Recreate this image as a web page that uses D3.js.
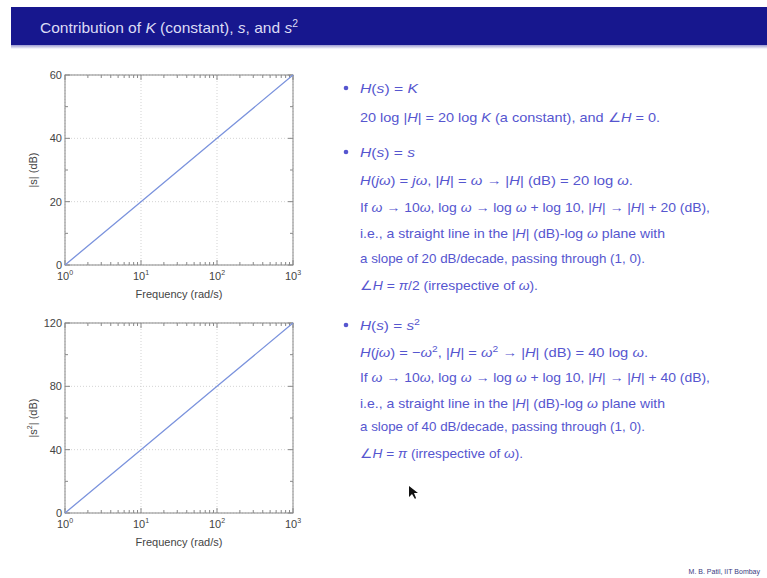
<!DOCTYPE html>
<html><head><meta charset="utf-8">
<script src="https://cdn.jsdelivr.net/npm/d3@7"></script>
<style>body{margin:0;background:#fff}svg{display:block}</style>
</head><body><svg id="c" width="767" height="578"></svg>
<script>
const freq = [1, 10, 100, 1000];
const magS = [0, 20, 40, 60];
const magS2 = [0, 40, 80, 120];
const xTickExp = [0, 1, 2, 3];
const yTicksTop = [0, 20, 40, 60];
const yTicksBot = [0, 40, 80, 120];

const svg = d3.select("#c");
const blue = "#5656cf";

// title bar
const grad = svg.append("defs").append("linearGradient").attr("id","sh").attr("x1",0).attr("x2",0).attr("y1",0).attr("y2",1);
grad.append("stop").attr("offset",0).attr("stop-color","#9a9ad0");
grad.append("stop").attr("offset",1).attr("stop-color","#fff");
svg.append("rect").attr("x",11).attr("y",7).attr("width",756).attr("height",38).attr("fill","#17178e");
svg.append("rect").attr("x",11).attr("y",45).attr("width",756).attr("height",4).attr("fill","url(#sh)");
const tt = svg.append("text").attr("x",40).attr("y",33).attr("fill","#dcdcf5")
  .style("font-family","Liberation Sans, Arial, sans-serif").style("font-size","15px")
  .attr("textLength",258).attr("lengthAdjust","spacingAndGlyphs");
tt.append("tspan").text("Contribution of ");
tt.append("tspan").attr("font-style","italic").text("K");
tt.append("tspan").text(" (constant), ");
tt.append("tspan").attr("font-style","italic").text("s");
tt.append("tspan").text(", and ");
tt.append("tspan").attr("font-style","italic").text("s");
tt.append("tspan").attr("dy",-6).style("font-size","10px").text("2");

function plot(top, bottom, vals, yTicks, ylabel) {
  const x = d3.scaleLog().domain([1, 1000]).range([65, 293]);
  const y = d3.scaleLinear().domain([0, yTicks[yTicks.length-1]]).range([bottom, top]);
  const g = svg.append("g");
  const step = yTicks[1]-yTicks[0];
  g.selectAll(".gx").data(freq).enter().append("line")
    .attr("x1",d=>x(d)).attr("x2",d=>x(d)).attr("y1",top).attr("y2",bottom)
    .attr("stroke","#c8c8c8").attr("stroke-dasharray","1,2").attr("stroke-width",0.8);
  g.selectAll(".gy").data(yTicks).enter().append("line")
    .attr("x1",65).attr("x2",293).attr("y1",d=>y(d)).attr("y2",d=>y(d))
    .attr("stroke","#c8c8c8").attr("stroke-dasharray","1,2").attr("stroke-width",0.8);
  const minorX = [];
  for (let e=0;e<3;e++) for (let k=2;k<10;k++) minorX.push(k*Math.pow(10,e));
  const allX = freq.concat(minorX);
  allX.forEach(d => {
    const len = freq.includes(d) ? 5 : 3;
    g.append("line").attr("x1",x(d)).attr("x2",x(d)).attr("y1",bottom).attr("y2",bottom-len).attr("stroke","#888");
    g.append("line").attr("x1",x(d)).attr("x2",x(d)).attr("y1",top).attr("y2",top+len).attr("stroke","#888");
  });
  const ys = d3.range(0, yTicks[yTicks.length-1]+0.01, step/2);
  ys.forEach(d => {
    const len = yTicks.includes(d) ? 5 : 3;
    g.append("line").attr("x1",65).attr("x2",65+len).attr("y1",y(d)).attr("y2",y(d)).attr("stroke","#888");
    g.append("line").attr("x1",293).attr("x2",293-len).attr("y1",y(d)).attr("y2",y(d)).attr("stroke","#888");
  });
  g.append("rect").attr("x",65).attr("y",top).attr("width",228).attr("height",bottom-top)
    .attr("fill","none").attr("stroke","#888").attr("stroke-width",1);
  const line = d3.line().x((d,i)=>x(freq[i])).y(d=>y(d));
  g.append("path").datum(vals).attr("d",line).attr("fill","none").attr("stroke","#7b93dd").attr("stroke-width",1.3);
  const fs = "Liberation Sans, Arial, sans-serif";
  g.selectAll(".yl").data(yTicks).enter().append("text")
    .attr("x",62).attr("y",d=>y(d)+4).attr("text-anchor","end")
    .style("font-family",fs).style("font-size","11px").attr("fill","#444").text(d=>d);
  xTickExp.forEach((e,i) => {
    const t = g.append("text").attr("x",x(freq[i])).attr("y",bottom+15).attr("text-anchor","middle")
      .style("font-family",fs).style("font-size","11px").attr("fill","#444");
    t.append("tspan").text("10");
    t.append("tspan").attr("dy",-5).style("font-size","7px").text(e);
  });
  g.append("text").attr("x",179).attr("y",bottom+33).attr("text-anchor","middle")
    .style("font-family",fs).style("font-size","11px").attr("fill","#444").text("Frequency (rad/s)");
  const yl = g.append("text").attr("transform",`translate(37,${(top+bottom)/2}) rotate(-90)`).attr("text-anchor","middle")
    .style("font-family",fs).style("font-size","11px").attr("fill","#444");
  yl.html(ylabel);
}
plot(75, 265, magS, yTicksTop, "|s| (dB)");
plot(323, 513, magS2, yTicksBot, '|s<tspan dy="-5" font-size="7px">2</tspan><tspan dy="5">| (dB)</tspan>');

const lines = [
  {y:88, b:true, w:58, h:'<tspan font-style="italic">H</tspan>(<tspan font-style="italic">s</tspan>) = <tspan font-style="italic">K</tspan>'},
  {y:117, w:300, h:'20 log |<tspan font-style="italic">H</tspan>| = 20 log <tspan font-style="italic">K</tspan> (a constant), and ∠<tspan font-style="italic">H</tspan> = 0.'},
  {y:152, b:true, w:55, h:'<tspan font-style="italic">H</tspan>(<tspan font-style="italic">s</tspan>) = <tspan font-style="italic">s</tspan>'},
  {y:180, w:273, h:'<tspan font-style="italic">H</tspan>(<tspan font-style="italic">jω</tspan>) = <tspan font-style="italic">jω</tspan>, |<tspan font-style="italic">H</tspan>| = <tspan font-style="italic">ω</tspan> → |<tspan font-style="italic">H</tspan>| (dB) = 20 log <tspan font-style="italic">ω</tspan>.'},
  {y:207, w:350, h:'If <tspan font-style="italic">ω</tspan> → 10<tspan font-style="italic">ω</tspan>, log <tspan font-style="italic">ω</tspan> → log <tspan font-style="italic">ω</tspan> + log 10, |<tspan font-style="italic">H</tspan>| → |<tspan font-style="italic">H</tspan>| + 20 (dB),'},
  {y:233, w:305, h:'i.e., a straight line in the |<tspan font-style="italic">H</tspan>| (dB)-log <tspan font-style="italic">ω</tspan> plane with'},
  {y:258, w:285, h:'a slope of 20 dB/decade, passing through (1, 0).'},
  {y:285, w:178, h:'∠<tspan font-style="italic">H</tspan> = <tspan font-style="italic">π</tspan>/2 (irrespective of <tspan font-style="italic">ω</tspan>).'},
  {y:325, b:true, w:60, h:'<tspan font-style="italic">H</tspan>(<tspan font-style="italic">s</tspan>) = <tspan font-style="italic">s</tspan><tspan dy="-5" font-size="9px">2</tspan>'},
  {y:352, w:288, h:'<tspan font-style="italic">H</tspan>(<tspan font-style="italic">jω</tspan>) = −<tspan font-style="italic">ω</tspan><tspan dy="-5" font-size="9px">2</tspan><tspan dy="5">, |</tspan><tspan font-style="italic">H</tspan>| = <tspan font-style="italic">ω</tspan><tspan dy="-5" font-size="9px">2</tspan><tspan dy="5"> → |</tspan><tspan font-style="italic">H</tspan>| (dB) = 40 log <tspan font-style="italic">ω</tspan>.'},
  {y:377, w:350, h:'If <tspan font-style="italic">ω</tspan> → 10<tspan font-style="italic">ω</tspan>, log <tspan font-style="italic">ω</tspan> → log <tspan font-style="italic">ω</tspan> + log 10, |<tspan font-style="italic">H</tspan>| → |<tspan font-style="italic">H</tspan>| + 40 (dB),'},
  {y:403, w:305, h:'i.e., a straight line in the |<tspan font-style="italic">H</tspan>| (dB)-log <tspan font-style="italic">ω</tspan> plane with'},
  {y:426, w:285, h:'a slope of 40 dB/decade, passing through (1, 0).'},
  {y:453, w:163, h:'∠<tspan font-style="italic">H</tspan> = <tspan font-style="italic">π</tspan> (irrespective of <tspan font-style="italic">ω</tspan>).'}
];
lines.forEach(l => {
  if (l.b) svg.append("circle").attr("cx",346).attr("cy",l.y).attr("r",2.3).attr("fill",blue);
  svg.append("text").attr("x",360).attr("y",l.y+4.5)
    .style("font-family","Liberation Sans, Arial, sans-serif").style("font-size","13px")
    .attr("fill",blue).attr("textLength",l.w).attr("lengthAdjust","spacingAndGlyphs").html(l.h);
});

svg.append("path").attr("d","M409,486 L409,497 L412,494 L415,499 L416,498 L414,493 L418,493 Z").attr("fill","#111");

svg.append("text").attr("x",760).attr("y",574).attr("text-anchor","end")
  .style("font-family","Liberation Sans, Arial, sans-serif").style("font-size","7px").attr("fill","#3a3a80")
  .text("M. B. Patil, IIT Bombay");
</script></body></html>
